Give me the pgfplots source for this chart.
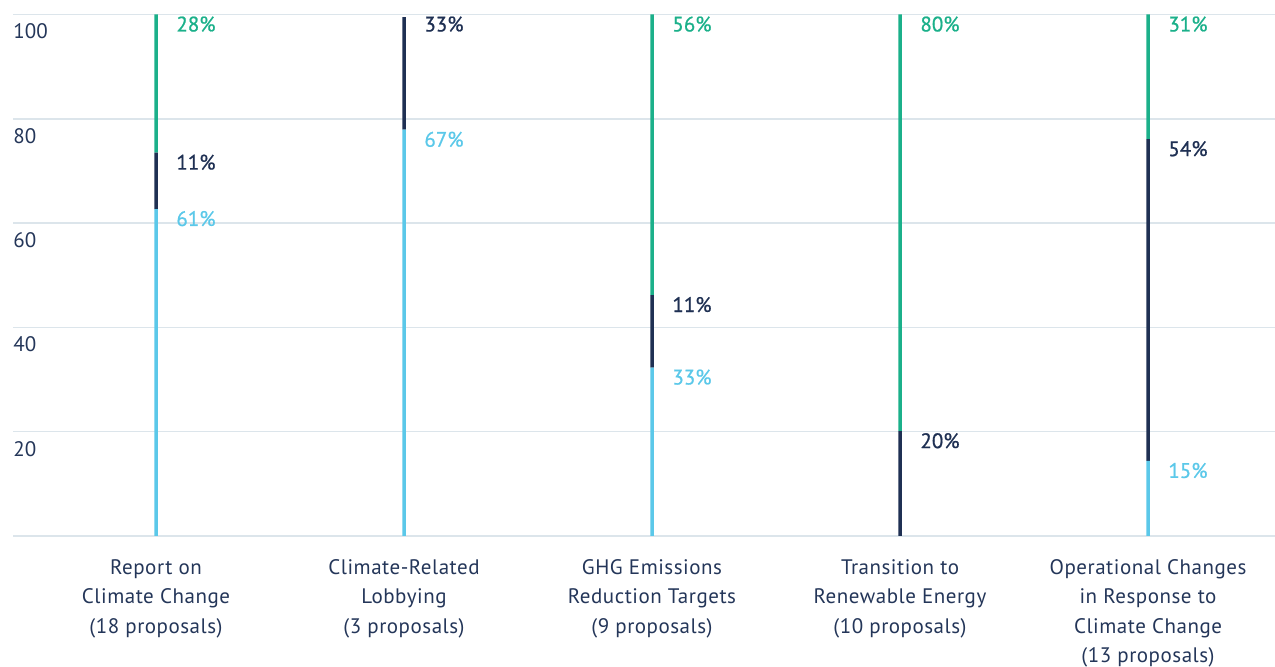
\documentclass[border=0pt]{standalone}
\usepackage{fontspec}
\setmainfont{PT Sans}
\newfontfamily\labfont{PT Sans}[FakeBold=0.8]
\newfontfamily\catfont{PT Sans}[LetterSpace=2.5]
\usepackage{pgfplots}
\usepackage{pgfplotstable}
\pgfplotsset{compat=1.18}
\definecolor{cLight}{HTML}{5BC8E9}
\definecolor{cNavy}{HTML}{1F3053}
\definecolor{cGreen}{HTML}{1BB08A}
\definecolor{cGrid}{HTML}{DCE5EB}
\definecolor{cText}{HTML}{243659}
\pgfplotstableread{
x light navy green
0 62.7 10.8 26.5
1 77.9 21.6 0
2 32.3 13.9 53.8
3 0 20.1 79.9
4 14.4 61.7 23.9
}\data
\begin{document}
\begin{tikzpicture}
\useasboundingbox (0,0) rectangle (637.5pt,-333.5pt);
\begin{axis}[
  at={(6.5pt,-268pt)}, anchor=south west,
  width=631pt, height=260.75pt, scale only axis,
  xmin=-0.5766, xmax=4.512, ymin=0, ymax=100,
  clip=false,
  axis line style={draw=none},
  major tick length=0pt,
  ymajorgrids, grid style={cGrid, line width=0.75pt},
  ytick={0,20,40,60,80,100},
  yticklabels={,20,40,60,80,100},
  yticklabel style={anchor=west, inner sep=0pt, yshift=-8.5pt, text=cText, font=\fontsize{10.5}{12}\selectfont},
  /pgf/number format/assume math mode=true,
  xtick={0,1,2,3,4},
  xticklabels={Report on\\Climate Change\\(18 proposals),
    Climate-Related\\Lobbying\\(3 proposals),
    GHG Emissions\\Reduction Targets\\(9 proposals),
    Transition to\\Renewable Energy\\(10 proposals),
    Operational Changes\\in Response to\\Climate Change\\(13 proposals)},
  xticklabel style={align=center, anchor=north, inner sep=0pt, yshift=-11.5pt, text=cText, font=\catfont\fontsize{10.5}{14.75}\selectfont},
  ybar stacked, bar width=1.75pt,
]
\addplot[fill=cLight, draw=none] table[x=x, y=light] {\data};
\addplot[fill=cNavy, draw=none] table[x=x, y=navy] {\data};
\addplot[fill=cGreen, draw=none] table[x=x, y=green] {\data};
\tikzset{lab/.style={anchor=west, inner sep=0pt, xshift=10pt, yshift=-4.8pt, font=\labfont\fontsize{10.5}{12}\selectfont}}
% Report on Climate Change
\node[lab, text=cGreen] at (axis cs:0,100) {28\%};
\node[lab, text=cNavy] at (axis cs:0,73.5) {11\%};
\node[lab, text=cLight] at (axis cs:0,62.7) {61\%};
% Lobbying
\node[lab, text=cNavy] at (axis cs:1,100) {33\%};
\node[lab, text=cLight] at (axis cs:1,77.9) {67\%};
% GHG
\node[lab, text=cGreen] at (axis cs:2,100) {56\%};
\node[lab, text=cNavy] at (axis cs:2,46.2) {11\%};
\node[lab, text=cLight] at (axis cs:2,32.3) {33\%};
% Transition
\node[lab, text=cGreen] at (axis cs:3,100) {80\%};
\node[lab, text=cNavy] at (axis cs:3,20.1) {20\%};
% Operational
\node[lab, text=cGreen] at (axis cs:4,100) {31\%};
\node[lab, text=cNavy] at (axis cs:4,76.1) {54\%};
\node[lab, text=cLight] at (axis cs:4,14.4) {15\%};
\end{axis}
\end{tikzpicture}
\end{document}
